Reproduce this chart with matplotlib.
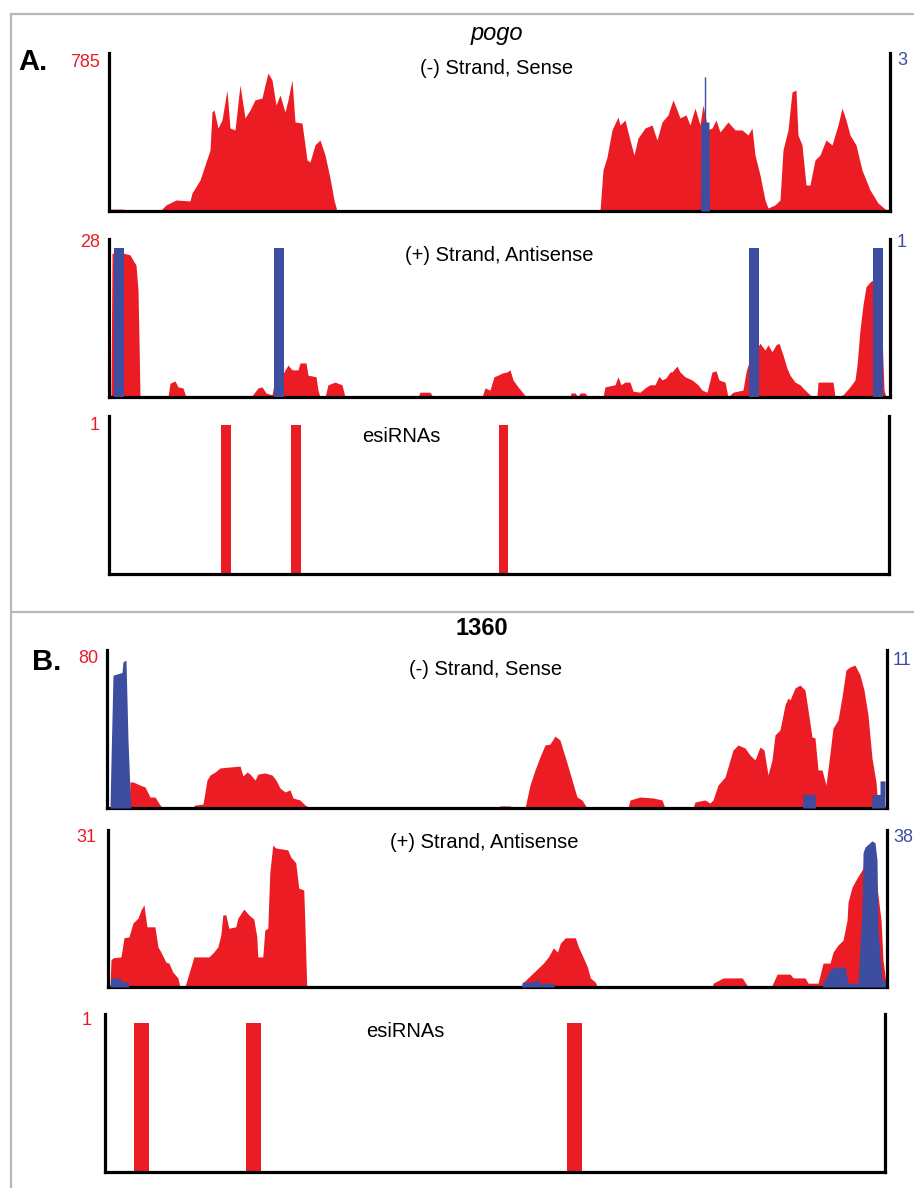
import matplotlib
matplotlib.use("Agg")
import matplotlib.pyplot as plt
from matplotlib.lines import Line2D

# ---- data: coverage profiles (position along element, count) ----
# A. pogo, (-) strand sense
A1_RED_POS = [0, 14, 15, 51, 57, 67, 81, 83, 91, 96, 101, 103, 105, 109, 113, 118, 121, 126, 131, 136,
              141, 146, 153, 156, 159, 163, 167, 171, 176, 179, 183, 186, 193, 198, 201, 206, 211, 216, 221, 225,
              228, 491, 494, 498, 503, 509, 511, 516, 521, 525, 529, 536, 543, 548, 553, 559, 564, 568, 571, 577,
              581, 586, 591, 594, 599, 603, 607, 611, 619, 626, 633, 639, 643, 646, 651, 656, 659, 666, 671, 674,
              679, 683, 687, 689, 693, 697, 701, 706, 711, 717, 723, 729, 733, 737, 741, 747, 753, 761, 769, 776,
              781]
A1_RED_VAL = [10, 10, 0, 0, 32, 58, 53, 95, 163, 242, 321, 521, 532, 437, 479, 637, 437, 427, 664, 490,
              532, 585, 595, 664, 727, 690, 558, 611, 521, 585, 690, 469, 463, 269, 258, 348, 374, 295, 174, 58,
              0, 0, 216, 284, 427, 495, 453, 479, 374, 295, 384, 437, 453, 374, 469, 506, 585, 532, 490, 506,
              453, 542, 453, 558, 427, 437, 479, 416, 469, 427, 427, 400, 437, 295, 190, 58, 16, 32, 58, 321,
              427, 627, 637, 400, 348, 137, 137, 269, 295, 374, 348, 453, 542, 479, 400, 348, 216, 111, 42, 11,
              0]
A1_BLUE_POS = [591.5, 592, 595.3, 595.3, 596.7, 596.7, 600, 600.5]
A1_BLUE_VAL = [0, 1.79, 1.79, 2.7, 2.7, 1.79, 1.79, 0]

# A. pogo, (+) strand antisense
A2_RED_POS = [2, 3, 15, 21, 24, 27, 29, 30, 31, 59, 61, 66, 69, 74, 77, 142, 149, 153, 157, 163,
              165, 175, 179, 183, 189, 191, 197, 199, 207, 209, 211, 216, 219, 226, 233, 236, 309, 311, 321, 324,
              373, 376, 381, 385, 389, 393, 398, 401, 404, 409, 414, 417, 461, 462, 466, 469, 471, 476, 479, 494,
              496, 506, 509, 512, 516, 521, 524, 531, 536, 541, 546, 550, 553, 557, 561, 563, 568, 571, 576, 583,
              589, 593, 598, 603, 607, 610, 616, 619, 624, 634, 637, 639, 650, 651, 656, 659, 663, 667, 670, 674,
              678, 681, 686, 691, 696, 701, 704, 708, 709, 724, 726, 734, 741, 746, 748, 751, 754, 757, 761, 764,
              771, 775, 777]
A2_RED_VAL = [0, 27, 27, 26.7, 25.7, 24.8, 20.1, 10.7, 0, 0, 2.6, 3.0, 1.9, 1.7, 0, 0, 1.7, 1.9, 0.75, 0.4,
              2.3, 4.7, 6.0, 5.1, 5.1, 6.4, 6.4, 4.1, 3.8, 1.3, 0, 0, 2.3, 2.8, 2.3, 0, 0, 0.9, 0.9, 0,
              0, 1.7, 1.3, 3.8, 4.1, 4.5, 4.7, 5.1, 3.2, 1.9, 0.75, 0, 0, 0.75, 0.75, 0, 0.75, 0.75, 0, 0,
              1.9, 2.3, 3.8, 2.3, 2.8, 2.8, 1.1, 0.9, 1.7, 2.3, 2.3, 3.9, 3.2, 3.6, 4.7, 4.7, 5.8, 4.7, 3.8, 3.2,
              2.3, 1.3, 0.9, 4.7, 4.9, 3.2, 2.8, 0, 0.9, 1.3, 4.7, 6.0, 9.8, 10.1, 8.8, 9.8, 8.5, 9.8, 10.1, 7.9,
              5.4, 4.1, 2.8, 2.3, 1.3, 0.4, 0, 0, 2.8, 2.8, 0, 0.4, 1.9, 3.2, 6.0, 12.6, 17.3, 20.7, 21.6, 22.0,
              22.4, 1.3, 0]
A2_BLUE_POS = [10, 169.5, 644.5, 769]
A2_BLUE_VAL = [1, 1, 1, 1]

# A. pogo, esiRNAs
A3_ESI_POS = [117, 187, 395]
A3_ESI_VAL = [1, 1, 1]

# B. 1360, (-) strand sense
B1_RED_POS = [22, 23, 26, 33, 38, 43, 48, 53, 56, 85, 88, 96, 100, 103, 108, 113, 123, 133, 136, 140,
              143, 148, 151, 158, 165, 169, 173, 178, 183, 186, 193, 198, 203, 392, 393, 403, 406, 418, 423, 428,
              433, 438, 443, 448, 453, 456, 460, 465, 470, 475, 480, 521, 523, 533, 546, 555, 558, 586, 588, 598,
              603, 606, 611, 618, 626, 631, 638, 643, 648, 653, 657, 661, 665, 668, 673, 678, 681, 683, 688, 693,
              698, 701, 705, 708, 711, 715, 719, 723, 726, 731, 735, 739, 743, 748, 753, 757, 761, 765, 769, 771]
B1_RED_VAL = [0, 14, 14, 12.3, 11.3, 5.9, 5.9, 1.6, 0, 0, 1.6, 2.1, 15, 17.7, 19.3, 21.5, 22, 22.5, 17.2, 19.3,
              18.2, 15, 18.2, 18.8, 17.7, 15, 10.7, 8.6, 9.7, 5.4, 4.3, 1.6, 0, 0, 1.1, 1.1, 0, 0, 12.3, 20.4,
              27.4, 33.8, 34.3, 38.6, 36.5, 31.1, 24.2, 15, 5.9, 4.3, 0, 0, 4.3, 5.9, 5.4, 4.3, 0, 0, 3.2, 4.3,
              2.7, 4.3, 12.3, 16.6, 31.1, 33.8, 32.2, 28.4, 25.8, 32.7, 31.1, 17.7, 25.8, 39.2, 41.9, 55.3, 59.0, 58.0, 64.4, 66.0,
              63.3, 52.6, 38.1, 37.6, 20.4, 20.4, 12.3, 29.5, 42.9, 47.2, 59.6, 74.1, 75.7, 76.7, 71.4, 63.3, 49.9, 26.8, 14.0, 0]
B1_BLUE_POS = [3, 4, 6, 15, 16, 19, 20, 21, 23, 24, 695.5, 696, 708, 708.5, 764.5, 765, 773, 773, 778, 778]
B1_BLUE_VAL = [0, 3.5, 9.8, 10.0, 10.8, 10.9, 8.0, 5.0, 1.3, 0, 0, 1, 1, 0, 0, 1, 1, 2, 2, 0]

# B. 1360, (+) strand antisense
B2_RED_POS = [2, 3, 5, 13, 16, 21, 25, 30, 33, 36, 39, 47, 50, 53, 58, 61, 65, 70, 72, 77,
              80, 86, 101, 105, 110, 113, 115, 118, 121, 128, 130, 136, 141, 146, 149, 150, 155, 157, 160, 162,
              165, 168, 180, 183, 188, 191, 196, 197, 199, 414, 415, 436, 441, 446, 450, 453, 458, 468, 471, 476,
              480, 483, 488, 490, 605, 606, 616, 635, 641, 664, 665, 670, 683, 686, 698, 701, 711, 716, 723, 726,
              731, 736, 740, 741, 745, 750, 755, 758, 763, 770, 774, 776, 779, 780]
B2_RED_VAL = [0, 5.7, 6.1, 6.3, 10.3, 10.5, 13.4, 14.4, 16.1, 17.2, 12.6, 12.6, 8.4, 7.3, 5.2, 5.0, 3.1, 1.9, 0, 0,
              2.1, 6.3, 6.3, 7.1, 8.4, 10.9, 15.1, 15.1, 12.3, 12.6, 14.4, 16.3, 15.1, 14.2, 10.5, 6.3, 6.3, 11.9, 12.3, 23.9,
              29.7, 29.1, 28.7, 27.2, 26.0, 20.7, 20.3, 14.0, 0, 0, 0.8, 5.0, 6.3, 8.2, 7.3, 9.2, 10.3, 10.3, 8.4, 6.1,
              4.2, 1.9, 1.0, 0, 0, 0.8, 1.9, 1.9, 0, 0, 0.4, 2.7, 2.7, 1.9, 1.9, 0.8, 0.8, 5.0, 5.0, 7.3,
              8.8, 9.8, 14.0, 17.8, 20.9, 22.8, 24.5, 25.5, 25.3, 20.9, 14.0, 5.7, 0.8, 0]
B2_BLUE_POS = [2, 3, 12, 14, 20, 21, 414, 415, 427, 429, 432, 433, 436, 446, 447, 715, 716, 723, 728, 738,
               741, 751, 755, 756, 758, 765, 768, 770, 771, 775, 779, 780]
B2_BLUE_VAL = [0, 2.3, 2.3, 1.3, 1.3, 0, 0, 1.3, 1.3, 1.8, 1.8, 0.5, 1.0, 1.0, 0, 0, 1.0, 4.4, 5.1, 5.1,
               1.0, 1.0, 20.5, 34.4, 35.9, 37.5, 37.0, 32.6, 14.6, 1.8, 1.8, 0]

# B. 1360, esiRNAs
B3_ESI_POS = [36, 148, 469]
B3_ESI_VAL = [1, 1, 1]

# axis maxima shown on the figure
A_LEN, B_LEN = 781, 780
A1_MAX = (785, 3)
A2_MAX = (28, 1)
B1_MAX = (80, 11)
B2_MAX = (31, 38)
HEADROOM = 1.06

RED = "#ec1c24"
BLUE = "#3d4ea1"
FRAME = "#b8b8b8"
W, H = 914, 1188

plt.rcParams["font.family"] = ["Liberation Sans", "DejaVu Sans"]

fig = plt.figure(figsize=(W / 100, H / 100), dpi=100)


def rect(left, top, right, bottom):
    return [left / W, 1 - bottom / H, (right - left) / W, (bottom - top) / H]


def ftext(x, y, s, **kw):
    fig.text(x / W, 1 - y / H, s, va="baseline", **kw)


def base_axes(box, xmax, ymax, right_spine):
    ax = fig.add_axes(box)
    ax.set_xlim(0, xmax)
    ax.set_ylim(0, ymax * HEADROOM)
    ax.set_xticks([])
    ax.set_yticks([])
    ax.patch.set_visible(False)
    ax.spines["top"].set_visible(False)
    ax.spines["right"].set_visible(right_spine)
    for s in ("left", "bottom", "right"):
        ax.spines[s].set_linewidth(2.3)
        ax.spines[s].set_color("black")
    return ax


def coverage(box, xmax, maxima, red_pos, red_val, blue_pos=None, blue_val=None,
             blue_bars=False, bar_width=10):
    ax = base_axes(box, xmax, maxima[0], False)
    ax.fill_between(red_pos, red_val, color=RED, lw=0)
    ax2 = ax.twinx()
    ax2.set_ylim(0, maxima[1] * HEADROOM)
    ax2.set_yticks([])
    for s in ("left", "top", "bottom"):
        ax2.spines[s].set_visible(False)
    ax2.spines["right"].set_linewidth(2.3)
    if blue_bars:
        ax2.bar(blue_pos, blue_val, width=bar_width, color=BLUE, lw=0)
    else:
        ax2.fill_between(blue_pos, blue_val, color=BLUE, lw=0)
    return ax, ax2


def esirnas(box, xmax, pos, val, width):
    ax = base_axes(box, xmax, 1, True)
    ax.bar(pos, val, width=width, color=RED, lw=0)
    return ax


# ---- frame ----
for (x0, y0, x1, y1) in [(11, 14, 914, 14), (11, 14, 11, 1188), (11, 612, 914, 612)]:
    fig.add_artist(Line2D([x0 / W, x1 / W], [1 - y0 / H, 1 - y1 / H],
                          transform=fig.transFigure, color=FRAME, lw=1.6))

# ---- panel A: pogo ----
coverage(rect(109, 53, 890, 211), A_LEN, A1_MAX, A1_RED_POS, A1_RED_VAL, A1_BLUE_POS, A1_BLUE_VAL)
coverage(rect(109, 239, 890, 397), A_LEN, A2_MAX, A2_RED_POS, A2_RED_VAL, A2_BLUE_POS, A2_BLUE_VAL,
         blue_bars=True, bar_width=10)
esirnas(rect(109, 416, 889, 574), A_LEN, A3_ESI_POS, A3_ESI_VAL, 10)

ftext(18, 70, "A.", fontsize=21, fontweight="bold")
ftext(497, 40, "pogo", fontsize=17, style="italic", ha="center")
ftext(497, 74, "(-) Strand, Sense", fontsize=14.5, ha="center")
ftext(499, 261, "(+) Strand, Antisense", fontsize=14.5, ha="center")
ftext(401, 442, "esiRNAs", fontsize=14.5, ha="center")
ftext(100, 67, str(A1_MAX[0]), fontsize=13, color=RED, ha="right")
ftext(897, 65, str(A1_MAX[1]), fontsize=13, color=BLUE, ha="left")
ftext(100, 247, str(A2_MAX[0]), fontsize=13, color=RED, ha="right")
ftext(897, 247, str(A2_MAX[1]), fontsize=13, color=BLUE, ha="left")
ftext(100, 430, "1", fontsize=13, color=RED, ha="right")

# ---- panel B: 1360 ----
coverage(rect(107, 650, 887, 808), B_LEN, B1_MAX, B1_RED_POS, B1_RED_VAL, B1_BLUE_POS, B1_BLUE_VAL)
coverage(rect(108, 830, 887, 987), B_LEN, B2_MAX, B2_RED_POS, B2_RED_VAL, B2_BLUE_POS, B2_BLUE_VAL)
esirnas(rect(105, 1014, 885, 1172), B_LEN, B3_ESI_POS, B3_ESI_VAL, 15)

ftext(32, 670, "B.", fontsize=21, fontweight="bold")
ftext(482, 635, "1360", fontsize=17, fontweight="bold", ha="center")
ftext(486, 675, "(-) Strand, Sense", fontsize=14.5, ha="center")
ftext(484, 848, "(+) Strand, Antisense", fontsize=14.5, ha="center")
ftext(405, 1037, "esiRNAs", fontsize=14.5, ha="center")
ftext(98, 663, str(B1_MAX[0]), fontsize=13, color=RED, ha="right")
ftext(893, 665, str(B1_MAX[1]), fontsize=13, color=BLUE, ha="left")
ftext(96, 842, str(B2_MAX[0]), fontsize=13, color=RED, ha="right")
ftext(893, 842, str(B2_MAX[1]), fontsize=13, color=BLUE, ha="left")
ftext(92, 1025, "1", fontsize=13, color=RED, ha="right")

fig.savefig("out.png", dpi=100)
